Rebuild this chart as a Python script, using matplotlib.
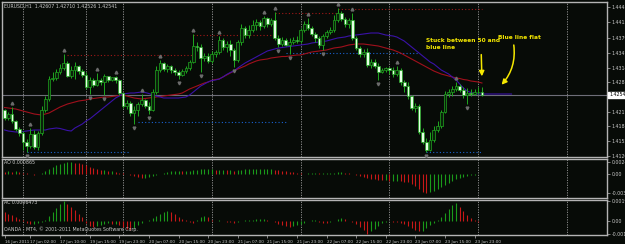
import matplotlib
matplotlib.use("Agg")
import matplotlib.pyplot as plt
import matplotlib.transforms as mtransforms
import numpy as np

# EURUSD H1, 130 candles
opens = [1.4221, 1.4203, 1.4212, 1.4197, 1.4179, 1.4170, 1.4151, 1.4142, 1.4168, 1.4140,
         1.4170, 1.4221, 1.4245, 1.4289, 1.4291, 1.4305, 1.4313, 1.4324, 1.4296, 1.4309,
         1.4318, 1.4307, 1.4298, 1.4272, 1.4287, 1.4276, 1.4287, 1.4283, 1.4296, 1.4287,
         1.4294, 1.4287, 1.4258, 1.4230, 1.4236, 1.4214, 1.4221, 1.4234, 1.4243, 1.4230,
         1.4221, 1.4261, 1.4309, 1.4324, 1.4311, 1.4318, 1.4309, 1.4305, 1.4298, 1.4307,
         1.4313, 1.4327, 1.4362, 1.4360, 1.4335, 1.4340, 1.4329, 1.4344, 1.4349, 1.4375,
         1.4360, 1.4366, 1.4353, 1.4331, 1.4371, 1.4401, 1.4386, 1.4397, 1.4408, 1.4415,
         1.4406, 1.4423, 1.4410, 1.4419, 1.4379, 1.4366, 1.4375, 1.4364, 1.4371, 1.4375,
         1.4373, 1.4397, 1.4410, 1.4401, 1.4388, 1.4379, 1.4364, 1.4384, 1.4393, 1.4397,
         1.4419, 1.4434, 1.4421, 1.4410, 1.4419, 1.4379, 1.4357, 1.4344, 1.4349, 1.4320,
         1.4327, 1.4318, 1.4305, 1.4309, 1.4313, 1.4309, 1.4300, 1.4309, 1.4283, 1.4274,
         1.4252, 1.4225, 1.4230, 1.4173, 1.4151, 1.4133, 1.4155, 1.4177, 1.4186, 1.4217,
         1.4256, 1.4261, 1.4267, 1.4274, 1.4265, 1.4254, 1.4258, 1.4256, 1.4261, 1.42607]
highs = [1.4223, 1.4217, 1.4228, 1.4199, 1.4184, 1.4175, 1.4157, 1.4181, 1.4177, 1.4175,
         1.4230, 1.4252, 1.4296, 1.4305, 1.4311, 1.4322, 1.4344, 1.4329, 1.4318, 1.4327,
         1.4320, 1.4311, 1.4305, 1.4294, 1.4291, 1.4302, 1.4291, 1.4300, 1.4291, 1.4291,
         1.4296, 1.4289, 1.4261, 1.4243, 1.4241, 1.4230, 1.4239, 1.4256, 1.4245, 1.4239,
         1.4267, 1.4318, 1.4331, 1.4327, 1.4322, 1.4320, 1.4313, 1.4309, 1.4311, 1.4318,
         1.4331, 1.4388, 1.4371, 1.4366, 1.4346, 1.4346, 1.4351, 1.4353, 1.4384, 1.4379,
         1.4373, 1.4375, 1.4357, 1.4375, 1.4410, 1.4406, 1.4408, 1.4419, 1.4421, 1.4419,
         1.4428, 1.4426, 1.4423, 1.4437, 1.4386, 1.4382, 1.4379, 1.4379, 1.4382, 1.4384,
         1.4401, 1.4417, 1.4423, 1.4406, 1.4393, 1.4384, 1.4388, 1.4397, 1.4404, 1.4430,
         1.4445, 1.4439, 1.4426, 1.4423, 1.4434, 1.4384, 1.4362, 1.4355, 1.4357, 1.4333,
         1.4333, 1.4324, 1.4313, 1.4316, 1.4316, 1.4316, 1.4318, 1.4313, 1.4287, 1.4283,
         1.4254, 1.4236, 1.4234, 1.4181, 1.4159, 1.4173, 1.4186, 1.4197, 1.4221, 1.4263,
         1.4267, 1.4274, 1.4283, 1.4278, 1.4272, 1.4269, 1.4267, 1.4267, 1.4272, 1.42710]
lows = [1.4199, 1.4199, 1.4192, 1.4175, 1.4164, 1.4133, 1.4129, 1.4137, 1.4135, 1.4133,
        1.4166, 1.4217, 1.4241, 1.4285, 1.4287, 1.4300, 1.4309, 1.4294, 1.4291, 1.4289,
        1.4300, 1.4294, 1.4267, 1.4256, 1.4272, 1.4274, 1.4276, 1.4254, 1.4283, 1.4285,
        1.4280, 1.4254, 1.4225, 1.4223, 1.4208, 1.4190, 1.4208, 1.4230, 1.4225, 1.4212,
        1.4219, 1.4256, 1.4305, 1.4307, 1.4305, 1.4302, 1.4298, 1.4289, 1.4296, 1.4302,
        1.4309, 1.4324, 1.4351, 1.4305, 1.4329, 1.4324, 1.4324, 1.4338, 1.4344, 1.4353,
        1.4349, 1.4340, 1.4316, 1.4327, 1.4364, 1.4379, 1.4379, 1.4393, 1.4397, 1.4397,
        1.4401, 1.4404, 1.4406, 1.4375, 1.4360, 1.4362, 1.4362, 1.4344, 1.4366, 1.4368,
        1.4368, 1.4393, 1.4397, 1.4384, 1.4371, 1.4357, 1.4353, 1.4379, 1.4388, 1.4393,
        1.4415, 1.4417, 1.4404, 1.4401, 1.4375, 1.4353, 1.4338, 1.4338, 1.4316, 1.4313,
        1.4313, 1.4287, 1.4302, 1.4305, 1.4300, 1.4294, 1.4296, 1.4276, 1.4261, 1.4245,
        1.4221, 1.4217, 1.4168, 1.4147, 1.4129, 1.4131, 1.4151, 1.4173, 1.4181, 1.4214,
        1.4250, 1.4252, 1.4263, 1.4261, 1.4247, 1.4234, 1.4252, 1.4254, 1.4256, 1.42526]
closes = [1.4203, 1.4212, 1.4197, 1.4179, 1.4170, 1.4151, 1.4142, 1.4168, 1.4140, 1.4170,
          1.4221, 1.4245, 1.4289, 1.4291, 1.4305, 1.4313, 1.4324, 1.4296, 1.4309, 1.4318,
          1.4307, 1.4298, 1.4272, 1.4287, 1.4276, 1.4287, 1.4283, 1.4296, 1.4287, 1.4294,
          1.4287, 1.4258, 1.4230, 1.4236, 1.4214, 1.4221, 1.4234, 1.4243, 1.4230, 1.4221,
          1.4261, 1.4309, 1.4324, 1.4311, 1.4318, 1.4309, 1.4305, 1.4298, 1.4307, 1.4313,
          1.4327, 1.4362, 1.4360, 1.4335, 1.4340, 1.4329, 1.4344, 1.4349, 1.4375, 1.4360,
          1.4366, 1.4353, 1.4331, 1.4371, 1.4401, 1.4386, 1.4397, 1.4408, 1.4415, 1.4406,
          1.4423, 1.4410, 1.4419, 1.4379, 1.4366, 1.4375, 1.4364, 1.4371, 1.4375, 1.4373,
          1.4397, 1.4410, 1.4401, 1.4388, 1.4379, 1.4364, 1.4384, 1.4393, 1.4397, 1.4419,
          1.4434, 1.4421, 1.4410, 1.4419, 1.4379, 1.4357, 1.4344, 1.4349, 1.4320, 1.4327,
          1.4318, 1.4305, 1.4309, 1.4313, 1.4309, 1.4300, 1.4309, 1.4283, 1.4274, 1.4252,
          1.4225, 1.4230, 1.4173, 1.4151, 1.4133, 1.4155, 1.4177, 1.4186, 1.4217, 1.4256,
          1.4261, 1.4267, 1.4274, 1.4265, 1.4254, 1.4258, 1.4256, 1.4261, 1.4261, 1.42541]

# red moving average (the "50")
ma_red = [1.42265, 1.42254, 1.42243, 1.42232, 1.42210, 1.42188, 1.42166, 1.42144, 1.42122, 1.42111,
          1.42100, 1.42122, 1.42144, 1.42188, 1.42232, 1.42276, 1.42309, 1.42342, 1.42364, 1.42386,
          1.42408, 1.42419, 1.42430, 1.42452, 1.42463, 1.42474, 1.42485, 1.42496, 1.42496, 1.42507,
          1.42518, 1.42529, 1.42540, 1.42518, 1.42496, 1.42474, 1.42463, 1.42452, 1.42463, 1.42474,
          1.42485, 1.42496, 1.42507, 1.42518, 1.42529, 1.42540, 1.42551, 1.42562, 1.42584, 1.42628,
          1.42672, 1.42705, 1.42738, 1.42771, 1.42804, 1.42826, 1.42859, 1.42881, 1.42892, 1.42936,
          1.42980, 1.43024, 1.43068, 1.43112, 1.43145, 1.43178, 1.43222, 1.43255, 1.43288, 1.43310,
          1.43321, 1.43332, 1.43354, 1.43365, 1.43376, 1.43387, 1.43387, 1.43398, 1.43409, 1.43420,
          1.43420, 1.43442, 1.43464, 1.43486, 1.43497, 1.43508, 1.43519, 1.43530, 1.43552, 1.43574,
          1.43585, 1.43596, 1.43618, 1.43640, 1.43651, 1.43662, 1.43662, 1.43662, 1.43651, 1.43640,
          1.43629, 1.43618, 1.43596, 1.43574, 1.43552, 1.43530, 1.43497, 1.43464, 1.43420, 1.43376,
          1.43332, 1.43288, 1.43244, 1.43200, 1.43156, 1.43112, 1.43068, 1.43035, 1.43002, 1.42980,
          1.42958, 1.42936, 1.42914, 1.42903, 1.42881, 1.42870, 1.42848, 1.42837, 1.42826, 1.42804]
# blue line, shifted 8 bars forward so it runs past the last candle
ma_blue = [1.41770, 1.41748, 1.41737, 1.41726, 1.41726, 1.41737, 1.41748, 1.41759, 1.41770, 1.41770,
           1.41770, 1.41770, 1.41792, 1.41803, 1.41814, 1.41803, 1.41781, 1.41759, 1.41748, 1.41814,
           1.41858, 1.41902, 1.41968, 1.42012, 1.42078, 1.42144, 1.42210, 1.42276, 1.42342, 1.42408,
           1.42474, 1.42518, 1.42562, 1.42573, 1.42584, 1.42584, 1.42595, 1.42606, 1.42595, 1.42573,
           1.42540, 1.42518, 1.42496, 1.42474, 1.42474, 1.42474, 1.42474, 1.42474, 1.42485, 1.42496,
           1.42540, 1.42606, 1.42672, 1.42738, 1.42782, 1.42826, 1.42859, 1.42870, 1.42892, 1.42936,
           1.42991, 1.43035, 1.43068, 1.43134, 1.43189, 1.43244, 1.43288, 1.43332, 1.43376, 1.43420,
           1.43464, 1.43508, 1.43530, 1.43552, 1.43574, 1.43585, 1.43596, 1.43607, 1.43618, 1.43629,
           1.43640, 1.43651, 1.43662, 1.43684, 1.43695, 1.43706, 1.43717, 1.43728, 1.43750, 1.43772,
           1.43794, 1.43805, 1.43816, 1.43838, 1.43849, 1.43860, 1.43871, 1.43882, 1.43893, 1.43904,
           1.43904, 1.43904, 1.43882, 1.43860, 1.43849, 1.43838, 1.43816, 1.43772, 1.43728, 1.43662,
           1.43596, 1.43530, 1.43464, 1.43398, 1.43332, 1.43266, 1.43222, 1.43156, 1.43090, 1.43046,
           1.43002, 1.42936, 1.42870, 1.42782, 1.42694, 1.42628, 1.42595, 1.42573, 1.42562, 1.42562,
           1.42562, 1.42562, 1.42562, 1.42562, 1.42562, 1.42562, 1.42562, 1.42562]

up_fractals = [2, 7, 16, 25, 30, 37, 42, 51, 58, 70, 73, 82, 90, 94, 106, 122]
down_fractals = [6, 23, 27, 35, 39, 47, 53, 62, 74, 77, 86, 101, 114, 125]

# fractal resistance (red) / support (blue) levels: start bar, end bar, price
res_start = [17, 51, 73, 90]
res_end = [51, 73, 90, 129]
res_level = [1.4342, 1.4386, 1.4434, 1.4443]
sup_start = [6, 36, 76, 114]
sup_end = [34, 76, 112, 129]
sup_level = [1.4129, 1.4195, 1.4346, 1.4129]

ao = [0.0004, 0.0006, 0.0005, 0.0006, 0.0004, 0.0003, 0.0002, 0.0001, -0.0001, 0.0001,
      0.0003, 0.0006, 0.0010, 0.0014, 0.0018, 0.0021, 0.0023, 0.0024, 0.00243, 0.0023,
      0.0022, 0.0020, 0.0018, 0.0014, 0.0012, 0.0010, 0.0008, 0.0008, 0.0006, 0.0006,
      0.0004, 0.0003, 0.0002, 0.0001, -0.0001, -0.0004, -0.0006, -0.0008, -0.0008, -0.0006,
      -0.0004, -0.0002, 0.0001, 0.0003, 0.0005, 0.0006, 0.0007, 0.0007, 0.0006, 0.0006,
      0.0007, 0.0008, 0.0009, 0.0010, 0.0010, 0.0010, 0.0010, 0.0009, 0.0009, 0.0009,
      0.0008, 0.0008, 0.0007, 0.0008, 0.0009, 0.0010, 0.0010, 0.0010, 0.0010, 0.0010,
      0.0010, 0.0010, 0.0010, 0.0009, 0.0008, 0.0007, 0.0006, 0.0005, 0.0004, 0.0003,
      0.0002, 0.0001, 0.0002, 0.0003, 0.0003, 0.0002, 0.0002, 0.0002, 0.0002, 0.0003,
      0.0004, 0.0004, 0.0003, 0.0002, 0.0001, -0.0001, -0.0003, -0.0005, -0.0007, -0.0009,
      -0.0010, -0.0011, -0.0012, -0.0012, -0.0013, -0.0013, -0.0013, -0.0014, -0.0015, -0.0016,
      -0.0020, -0.0024, -0.0030, -0.0036, -0.00374, -0.0036, -0.0034, -0.0030, -0.0026, -0.0022,
      -0.0018, -0.0014, -0.0010, -0.0007, -0.0005, -0.0003, -0.0002, -0.0001, 0.0001, 0.0001]
ac = [0.0009, 0.0007, 0.0006, 0.0004, 0.0002, 0.0001, -0.0002, -0.0003, -0.0003, -0.0002,
      -0.0001, 0.0001, 0.0005, 0.0009, 0.0013, 0.0017, 0.00196, 0.0017, 0.0014, 0.0011,
      0.0007, 0.0004, -0.0002, -0.0005, -0.0006, -0.0005, -0.0004, -0.0003, -0.0002, -0.0003,
      -0.0003, -0.0004, -0.0006, -0.0008, -0.0009, -0.0007, -0.0004, -0.0002, 0.00005, 0.00015,
      0.0003, 0.0005, 0.0007, 0.0009, 0.0010, 0.0009, 0.0007, 0.0004, 0.0002, 0.0001,
      -0.0001, -0.00015, 0.0001, 0.0004, 0.0005, 0.0004, 0.00015, 0.00005, 0.0001, 0.00005,
      -0.00005, -0.0001, -0.00015, -0.00005, 0.00005, 0.0001, 0.0001, 0.00015, 0.0002, 0.0002,
      0.00025, 0.00015, 0.00005, -0.0001, -0.00025, -0.00035, -0.00045, -0.00055, -0.0005, -0.0004,
      -0.0003, -0.0002, 0.00005, 0.0001, 0.0001, -0.00005, -0.00015, -0.0002, -0.0001, 0.00005,
      0.0002, 0.0003, 0.0002, 0.00005, -0.0001, -0.0003, -0.0006, -0.0009, -0.00125, -0.0010,
      -0.0008, -0.0005, -0.0002, -0.00005, 0.00005, -0.00005, -0.0001, -0.0002, -0.0003, -0.0005,
      -0.0007, -0.0009, -0.0010, -0.0010, -0.0007, -0.0004, -0.0002, 0.0001, 0.0004, 0.0008,
      0.0012, 0.0016, 0.0018, 0.0014, 0.0010, 0.0006, 0.0003, 0.0001, -0.0001, 0.00005]

day_starts = [5, 22, 32, 56, 80, 104, 128, 152]
time_bars = [0, 7, 15, 23, 31, 39, 47, 55, 63, 71, 79, 87, 95, 103, 111, 119, 127]
time_labels = ["16 Jun 2011", "17 Jun 02:00", "17 Jun 10:00", "19 Jun 15:00", "19 Jun 23:00",
               "20 Jun 07:00", "20 Jun 15:00", "20 Jun 23:00", "21 Jun 07:00", "21 Jun 15:00",
               "21 Jun 23:00", "22 Jun 07:00", "22 Jun 15:00", "22 Jun 23:00", "23 Jun 07:00",
               "23 Jun 15:00", "23 Jun 23:00"]
price_ticks = [1.4448, 1.4415, 1.4379, 1.4347, 1.4314, 1.4283, 1.4217, 1.4186, 1.4152, 1.4120]
price_labels = ["1.44480", "1.44150", "1.43790", "1.43470", "1.43140", "1.42830",
                "1.42170", "1.41860", "1.41520", "1.41200"]
ao_ticks = [0.00243, 0.0, -0.00374]
ao_labels = ["0.00243", "0.00", "-0.00374"]
ac_ticks = [0.00196, 0.0, -0.00125]
ac_labels = ["0.00196", "0.00", "-0.00125"]

bg = "#070b07"
txt = "#c8c8c8"
frame = "#b4b4b4"
W, H = 625, 244

fig = plt.figure(figsize=(6.25, 2.44), dpi=100, facecolor=bg)


def px_axes(left, top, right, bottom):
    return fig.add_axes([left / W, 1 - bottom / H, (right - left) / W, (bottom - top) / H])


ax = px_axes(2, 2, 607, 157)
ax_ao = px_axes(2, 158.5, 607, 197.5)
ax_ac = px_axes(2, 199.5, 607, 235)

x = np.arange(len(opens))
for a in (ax, ax_ao, ax_ac):
    a.set_facecolor(bg)
    a.set_xlim(-0.7, 162.8)
    for s in a.spines.values():
        s.set_color(frame)
        s.set_linewidth(1.0)
    for d in day_starts:
        a.axvline(d, color="#9a9a9a", lw=0.6, ls=(0, (1.5, 1.5)), zorder=1)
    a.yaxis.tick_right()
    a.tick_params(axis="y", colors=frame, labelcolor=txt, labelsize=3.4, length=2, width=0.5, pad=1.5)
    a.tick_params(axis="x", bottom=False, labelbottom=False)

# main price panel
ax.set_ylim(1.41176, 1.44586)
ax.axhline(closes[-1], color="#6e6e78", lw=0.8, zorder=1)
for s0, s1, lv in zip(res_start, res_end, res_level):
    ax.plot([s0, s1], [lv, lv], color="#a01818", lw=0.8, ls=(0, (1, 2)), zorder=2)
for s0, s1, lv in zip(sup_start, sup_end, sup_level):
    ax.plot([s0, s1], [lv, lv], color="#1a62d0", lw=0.8, ls=(0, (1, 2)), zorder=2)

ax.plot(np.arange(len(ma_red)), ma_red, color="#a0101c", lw=0.8, zorder=3)
ax.plot(np.arange(len(ma_blue)), ma_blue, color="#3a12a8", lw=0.8, zorder=3)

edge = "#1fa81f"
ax.vlines(x, lows, highs, color=edge, lw=0.7, zorder=4)
o = np.array(opens)
c = np.array(closes)
body_bot = np.minimum(o, c)
body_h = np.maximum(np.abs(c - o), 0.00003)
faces = ["#e4ffe4" if cc < oo else "#0a200a" for oo, cc in zip(o, c)]
ax.bar(x, body_h, bottom=body_bot, width=0.72, color=faces, edgecolor=edge, linewidth=0.5, zorder=5)

up_off = mtransforms.offset_copy(ax.transData, fig=fig, x=0, y=4, units="dots")
dn_off = mtransforms.offset_copy(ax.transData, fig=fig, x=0, y=-4, units="dots")
ax.plot(up_fractals, [highs[i] for i in up_fractals], ls="none", marker="^", ms=2.0,
        color="#6c6c6c", transform=up_off, zorder=6)
ax.plot(down_fractals, [lows[i] for i in down_fractals], ls="none", marker="v", ms=2.0,
        color="#6c6c6c", transform=dn_off, zorder=6)

ax.set_yticks(price_ticks, price_labels)
ax.annotate("1.42541", xy=(1, closes[-1]), xycoords=("axes fraction", "data"),
            xytext=(1.5, 0), textcoords="offset points", va="center", ha="left",
            fontsize=3.4, color="black",
            bbox=dict(boxstyle="square,pad=0.2", fc="white", ec="white"))

# AO panel
ax_ao.set_ylim(-0.0047, 0.0031)
ao_col = ["#1a9a1a" if i > 0 and ao[i] >= ao[i - 1] else "#c81818" for i in range(len(ao))]
ax_ao.vlines(x, 0, ao, colors=ao_col, lw=0.8, zorder=3)
ax_ao.set_yticks(ao_ticks, ao_labels)

# AC panel
ax_ac.set_ylim(-0.0014, 0.00215)
ac_col = ["#1a9a1a" if i > 0 and ac[i] >= ac[i - 1] else "#c81818" for i in range(len(ac))]
ax_ac.vlines(x, 0, ac, colors=ac_col, lw=0.8, zorder=3)
ax_ac.set_yticks(ac_ticks, ac_labels)
ax_ac.tick_params(axis="x", bottom=True, labelbottom=True, colors=frame, labelcolor=txt,
                  labelsize=3.0, length=2, width=0.5, pad=1.5)
ax_ac.set_xticks(time_bars, time_labels)
for lab in ax_ac.get_xticklabels():
    lab.set_ha("left")

# texts
fig.text(4 / W, 1 - 6 / H, "EURUSD,H1  1.42607 1.42710 1.42526 1.42541", color=txt,
         fontsize=3.4, va="center")
fig.text(4 / W, 1 - 162 / H, "AO 0.000865", color=txt, fontsize=3.4, va="center")
fig.text(4 / W, 1 - 203 / H, "AC 0.0006473", color=txt, fontsize=3.4, va="center")
fig.text(4 / W, 1 - 229 / H, "OANDA - MT4, \u00a9 2001-2011 MetaQuotes Software Corp.",
         color=txt, fontsize=3.4, va="center")

# yellow notes
yel = "#f5e800"
ax.text(114.0, 1.4366, "Stuck between 50 and\nblue line", color=yel, fontsize=4.2,
        fontweight="bold", va="center", ha="left", linespacing=1.3)
ax.text(133.4, 1.4380, "Blue line flat", color=yel, fontsize=4.2, fontweight="bold",
        va="center", ha="left")
ax.annotate("", xy=(129, 1.4289), xytext=(128.8, 1.4349),
            arrowprops=dict(arrowstyle="-|>,head_length=0.3,head_width=0.15", color=yel, lw=1.1))
ax.annotate("", xy=(133.8, 1.4272), xytext=(137.5, 1.4370),
            arrowprops=dict(arrowstyle="-|>,head_length=0.3,head_width=0.15", color=yel, lw=1.1,
                            connectionstyle="arc3,rad=-0.25"))

fig.savefig("out.png", dpi=100, facecolor=bg)
